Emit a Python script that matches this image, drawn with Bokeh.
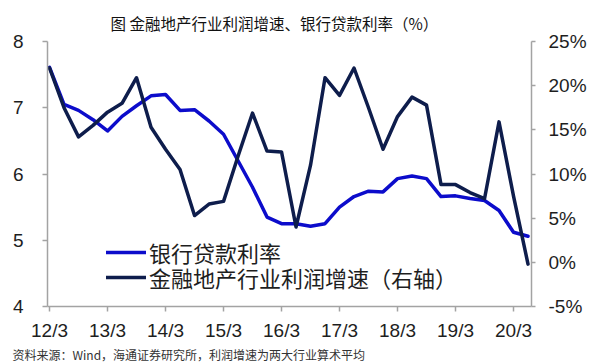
from bokeh.plotting import figure
from bokeh.models import Range1d, LinearAxis, FixedTicker, Legend, LegendItem, Title, BoxAnnotation
from bokeh.embed import file_html
from bokeh.resources import INLINE

# quarterly index: 0 = 2012/3 ... 33 = 2020/6
quarters = list(range(34))
tick_positions = [0, 4, 8, 12, 16, 20, 24, 28, 32]
tick_labels = ["12/3", "13/3", "14/3", "15/3", "16/3", "17/3", "18/3", "19/3", "20/3"]

loan_rate = [7.61, 7.05, 6.96, 6.82, 6.65, 6.87, 7.03, 7.18, 7.20, 6.96,
             6.97, 6.80, 6.60, 6.20, 5.80, 5.35, 5.25, 5.25, 5.21, 5.25,
             5.50, 5.66, 5.74, 5.73, 5.93, 5.97, 5.93, 5.66, 5.67, 5.63,
             5.60, 5.45, 5.12, 5.06]

profit_growth = [22.0, 17.5, 14.2, 15.5, 17.0, 18.0, 20.9, 15.3, 12.8, 10.5,
                 5.3, 6.6, 6.9, 12.0, 16.9, 12.6, 12.5, 4.0, 11.0, 20.9,
                 18.9, 22.0, 17.5, 12.8, 16.5, 18.7, 17.8, 8.8, 8.8, 7.9,
                 7.2, 15.9, 7.5, -0.2]

left_ticks = [4, 5, 6, 7, 8]
right_ticks = [-5, 0, 5, 10, 15, 20, 25]
right_labels = ["-5%", "0%", "5%", "10%", "15%", "20%", "25%"]

title_text = "图 金融地产行业利润增速、银行贷款利率（%）"
source_text = "资料来源：Wind，海通证券研究所，利润增速为两大行业算术平均"
label_loan = "银行贷款利率"
label_profit = "金融地产行业利润增速（右轴）"

BLUE = "#0C0CCB"
NAVY = "#0E1D4C"
AXIS = "#A3A3A3"
TXT = "#1E1E1E"
RULE = "#3a3a3a"
LATIN = "Liberation Sans"
CJK = "Noto Sans CJK SC"
W, H = 600, 362

p = figure(width=W, height=H, output_backend="svg", toolbar_location=None,
           x_range=Range1d(-0.14, 33.24), y_range=Range1d(4, 8),
           min_border_left=47, min_border_right=69, min_border_top=41, min_border_bottom=53,
           margin=0)
p.extra_y_ranges = {"r": Range1d(-5, 25)}
p.outline_line_color = None
p.xgrid.visible = False
p.ygrid.visible = False
p.background_fill_color = "white"
p.border_fill_color = "white"

r1 = p.line(quarters, loan_rate, line_color=BLUE, line_width=3.5, line_join="round", line_cap="round")
r2 = p.line(quarters, profit_growth, line_color=NAVY, line_width=3.5, line_join="round", line_cap="round",
            y_range_name="r")

xa = p.xaxis[0]
xa.ticker = FixedTicker(ticks=tick_positions)
xa.major_label_overrides = {t: l for t, l in zip(tick_positions, tick_labels)}
xa.minor_tick_line_color = None
xa.major_tick_in = 0
xa.major_tick_out = 5
xa.major_label_standoff = 8

ya = p.yaxis[0]
ya.ticker = FixedTicker(ticks=left_ticks)
ya.minor_tick_line_color = None
ya.major_tick_in = 0
ya.major_tick_out = 5
ya.major_label_standoff = 19

ra = LinearAxis(y_range_name="r", ticker=FixedTicker(ticks=right_ticks))
ra.major_label_overrides = {t: l for t, l in zip(right_ticks, right_labels)}
ra.minor_tick_line_color = None
ra.major_tick_in = 0
ra.major_tick_out = 4
ra.major_label_standoff = 13
p.add_layout(ra, "right")

for ax in [xa, ya, ra]:
    ax.axis_line_color = AXIS
    ax.axis_line_width = 1.5
    ax.major_tick_line_color = AXIS
    ax.major_tick_line_width = 1.5
    ax.major_label_text_font = LATIN
    ax.major_label_text_font_size = "19px"
    ax.major_label_text_color = TXT

legend_style = dict(orientation="vertical", border_line_color=None, background_fill_alpha=0,
                    padding=0, margin=0, spacing=0,
                    glyph_width=40, glyph_height=20, label_height=20, label_standoff=3,
                    label_text_font=CJK, label_text_font_size="22px", label_text_color=TXT)
legend1 = Legend(items=[LegendItem(label=label_loan, renderers=[r1])], location=(59, 38), **legend_style)
legend2 = Legend(items=[LegendItem(label=label_profit, renderers=[r2])], location=(59, 13), **legend_style)
p.add_layout(legend1, "center")
p.add_layout(legend2, "center")

# title (above) and source note (below)
p.title.text = title_text
p.title.align = "left"
p.title.offset = 63
p.title.standoff = 16
p.title.text_font = CJK
p.title.text_font_size = "15.5px"
p.title.text_font_style = "normal"
p.title.text_color = "#111111"

src = Title(text=source_text, align="left", offset=-35, standoff=0,
            text_font=CJK, text_font_size="12px", text_font_style="normal", text_color="#333333")
p.add_layout(src, "below")

# horizontal rules across the whole canvas (canvas pixel units, measured from the top)
for y_top in [4.3, 30.3, 342.3]:
    p.add_layout(BoxAnnotation(left=0, right=W, top=y_top, bottom=y_top + 1.4,
                               left_units="canvas", right_units="canvas",
                               top_units="canvas", bottom_units="canvas",
                               fill_color=RULE, fill_alpha=1.0, line_color=None))

open("out.html", "w").write(file_html(p, INLINE))
